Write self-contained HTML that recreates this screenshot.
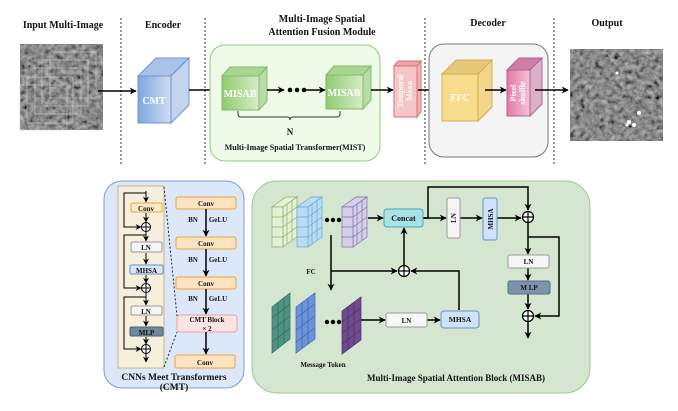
<!DOCTYPE html>
<html><head><meta charset="utf-8"><style>
html,body{margin:0;padding:0;background:#fff}
svg{display:block}
text{font-family:"Liberation Serif",serif;font-weight:bold;fill:#111}
</style></head><body>
<svg width="678" height="411" viewBox="0 0 678 411" xmlns="http://www.w3.org/2000/svg">
<defs>
<marker id="ah" viewBox="0 0 10 10" refX="9" refY="5" markerWidth="7" markerHeight="7" markerUnits="userSpaceOnUse" orient="auto"><path d="M0,0 L10,5 L0,10 L3,5 z" fill="#000"/></marker>
<marker id="ahs" viewBox="0 0 10 10" refX="9" refY="5" markerWidth="6" markerHeight="6" markerUnits="userSpaceOnUse" orient="auto"><path d="M0,0 L10,5 L0,10 L3,5 z" fill="#000"/></marker>
<filter id="noise" x="0" y="0" width="100%" height="100%">
<feTurbulence type="fractalNoise" baseFrequency="0.2" numOctaves="3" seed="4"/>
<feColorMatrix type="matrix" values="0.33 0.33 0.33 0 0  0.33 0.33 0.33 0 0  0.33 0.33 0.33 0 0  0 0 0 0 1"/>
<feComponentTransfer><feFuncR type="linear" slope="1.0" intercept="-0.25"/><feFuncG type="linear" slope="1.0" intercept="-0.25"/><feFuncB type="linear" slope="1.0" intercept="-0.25"/></feComponentTransfer>
</filter>
<linearGradient id="gb" x1="0" x2="1"><stop offset="0" stop-color="#7ea6dd"/><stop offset="1" stop-color="#cfdcf1"/></linearGradient>
<linearGradient id="gg" x1="0" x2="1"><stop offset="0" stop-color="#8fcb6e"/><stop offset="1" stop-color="#d6ecc9"/></linearGradient>
<linearGradient id="gp" x1="0" x2="1"><stop offset="0" stop-color="#e478a6"/><stop offset="1" stop-color="#f4c3d8"/></linearGradient>
</defs>

<text x="63" y="28" font-size="10" text-anchor="middle">Input Multi-Image</text>
<text x="163" y="28" font-size="10" text-anchor="middle">Encoder</text>
<text x="322" y="22" font-size="10" text-anchor="middle">Multi-Image Spatial</text>
<text x="322" y="35" font-size="10" text-anchor="middle">Attention Fusion Module</text>
<text x="488" y="26" font-size="10" text-anchor="middle">Decoder</text>
<text x="607" y="26" font-size="10" text-anchor="middle">Output</text>

<g stroke="#333" stroke-width="1" stroke-dasharray="2,2">
<line x1="121" y1="18" x2="121" y2="164"/><line x1="205" y1="18" x2="205" y2="164"/>
<line x1="425" y1="18" x2="425" y2="164"/><line x1="554" y1="18" x2="554" y2="164"/>
</g>

<g filter="url(#noise)">
<rect x="57" y="44" width="46" height="46" fill="#777"/>
<rect x="50" y="52" width="46" height="46" fill="#777"/>
<rect x="42" y="60" width="46" height="46" fill="#777"/>
<rect x="35" y="68" width="46" height="46" fill="#777"/>
<rect x="27" y="77" width="46" height="46" fill="#777"/>
<rect x="20" y="85" width="47" height="45" fill="#777"/>
</g>
<g fill="none" stroke="#ccc" stroke-width="0.6">
<rect x="50" y="52" width="46" height="46"/><rect x="42" y="60" width="46" height="46"/>
<rect x="35" y="68" width="46" height="46"/><rect x="27" y="77" width="46" height="46"/>
<rect x="20" y="85" width="47" height="45"/>
</g>
<line x1="98" y1="91" x2="136" y2="91" stroke="#000" stroke-width="1.6" marker-end="url(#ah)"/>

<polygon points="138,76 156,58 189,58 171,76" fill="#a9c2e8" stroke="#6f95cf"/>
<polygon points="171,76 189,58 189,105 171,123" fill="#c3d4ef" stroke="#6f95cf"/>
<rect x="138" y="76" width="33" height="47" fill="url(#gb)" stroke="#6f95cf"/>
<text x="154" y="104" font-size="10" style="fill:#fff" text-anchor="middle">CMT</text>
<line x1="189" y1="90" x2="221" y2="90" stroke="#000" stroke-width="1.6" marker-end="url(#ah)"/>

<rect x="210" y="45" width="170" height="116" rx="15" fill="#eefbe9" stroke="#93c97d"/>
<polygon points="222,76 230,67 267,67 259,76" fill="#a9d593" stroke="#82bb68"/>
<polygon points="259,76 267,67 267,101 259,110" fill="#b9dca7" stroke="#82bb68"/>
<rect x="222" y="76" width="37" height="34" fill="url(#gg)" stroke="#82bb68"/>
<text x="240" y="97" font-size="10" style="fill:#fff" text-anchor="middle">MISAB</text>
<polygon points="326,75 334,66 371,66 363,75" fill="#a9d593" stroke="#82bb68"/>
<polygon points="363,75 371,66 371,100 363,109" fill="#b9dca7" stroke="#82bb68"/>
<rect x="326" y="75" width="37" height="34" fill="url(#gg)" stroke="#82bb68"/>
<text x="344" y="96" font-size="10" style="fill:#fff" text-anchor="middle">MISAB</text>
<line x1="267" y1="90" x2="284" y2="90" stroke="#000" stroke-width="1.6" marker-end="url(#ah)"/>
<circle cx="290" cy="90" r="2.3"/><circle cx="297" cy="90" r="2.3"/><circle cx="304" cy="90" r="2.3"/>
<line x1="306" y1="90" x2="325" y2="90" stroke="#000" stroke-width="1.6" marker-end="url(#ah)"/>
<path d="M238,111 v3 q0,3 3,3 h46 q3,0 3,3 q0,-3 3,-3 h44 q3,0 3,-3 v-3" fill="none" stroke="#333" stroke-width="1"/>
<text x="290" y="135" font-size="9" text-anchor="middle">N</text>
<text x="295" y="150" font-size="8" text-anchor="middle">Multi-Image Spatial Transformer(MIST)</text>
<line x1="371" y1="90" x2="393" y2="90" stroke="#000" stroke-width="1.6" marker-end="url(#ah)"/>

<polygon points="394,66 398,61 421,61 417,66" fill="#eca7a7" stroke="#d27272"/>
<polygon points="417,66 421,61 421,112 417,117" fill="#f0b4b4" stroke="#d27272"/>
<rect x="394" y="66" width="23" height="51" fill="#f6c6c6" stroke="#d27272"/>
<text transform="translate(403,91) rotate(-90)" font-size="8" style="fill:#fff" text-anchor="middle">Temporal</text>
<text transform="translate(412,91) rotate(-90)" font-size="8" style="fill:#fff" text-anchor="middle">Mean</text>
<line x1="418" y1="90" x2="441" y2="90" stroke="#000" stroke-width="1.6" marker-end="url(#ah)"/>

<rect x="429" y="44" width="119" height="113" rx="15" fill="#f4f4f4" stroke="#777"/>
<polygon points="442,74 456,60 492,60 478,74" fill="#e6c87a" stroke="#cfae55"/>
<polygon points="478,74 492,60 492,107 478,121" fill="#f0d58a" stroke="#cfae55"/>
<rect x="442" y="74" width="36" height="47" fill="#f7dc8e" stroke="#cfae55"/>
<text x="460" y="101" font-size="10" style="fill:#fff" text-anchor="middle">FFC</text>
<line x1="485" y1="90" x2="506" y2="90" stroke="#000" stroke-width="1.6" marker-end="url(#ah)"/>
<polygon points="507,70 519,58 542,58 530,70" fill="#cf7ea7" stroke="#b0668c"/>
<polygon points="530,70 542,58 542,104 530,116" fill="#dcb1c8" stroke="#b0668c"/>
<rect x="507" y="70" width="23" height="46" fill="url(#gp)" stroke="#b0668c"/>
<text transform="translate(516,93) rotate(-90)" font-size="8" style="fill:#fff" text-anchor="middle">Pixel</text>
<text transform="translate(525,93) rotate(-90)" font-size="8" style="fill:#fff" text-anchor="middle">shuffle</text>
<line x1="535" y1="90" x2="568" y2="90" stroke="#000" stroke-width="1.6" marker-end="url(#ah)"/>

<rect x="570" y="49" width="93" height="92" fill="#666" filter="url(#noise)"/>
<g fill="#fff"><circle cx="639" cy="113" r="2"/><circle cx="629" cy="122" r="2"/><circle cx="634" cy="125" r="2"/><circle cx="627" cy="125" r="1.5"/><circle cx="617" cy="73" r="1.5"/></g>

<rect x="104" y="181" width="140" height="207" rx="18" fill="#dce8fa" stroke="#7b9dd2"/>
<rect x="118" y="186" width="46" height="182" fill="#f5efdc" stroke="#c7b687"/>
<line x1="164" y1="187" x2="177" y2="316" stroke="#222" stroke-dasharray="2,2"/>
<line x1="164" y1="367" x2="177" y2="332" stroke="#222" stroke-dasharray="2,2"/>
<g stroke="#000" stroke-width="1" fill="none">
<line x1="146" y1="191" x2="146" y2="202" marker-end="url(#ahs)"/>
<path d="M146,193 H124 V227 H141" marker-end="url(#ahs)"/>
<line x1="146" y1="213" x2="146" y2="222" marker-end="url(#ahs)"/>
<line x1="146" y1="232" x2="146" y2="241" marker-end="url(#ahs)"/>
<path d="M146,235 H124 V288 H141" marker-end="url(#ahs)"/>
<line x1="146" y1="253" x2="146" y2="264" marker-end="url(#ahs)"/>
<line x1="146" y1="275" x2="146" y2="283" marker-end="url(#ahs)"/>
<line x1="146" y1="293" x2="146" y2="305" marker-end="url(#ahs)"/>
<path d="M146,297 H124 V349 H141" marker-end="url(#ahs)"/>
<line x1="146" y1="316" x2="146" y2="326" marker-end="url(#ahs)"/>
<line x1="146" y1="337" x2="146" y2="344" marker-end="url(#ahs)"/>
<line x1="146" y1="354" x2="146" y2="362" marker-end="url(#ahs)"/>
</g>
<g fill="#fff" stroke="#000" stroke-width="1">
<circle cx="146" cy="227" r="4.5"/><circle cx="146" cy="288" r="4.5"/><circle cx="146" cy="349" r="4.5"/>
</g>
<g stroke="#000" stroke-width="1">
<path d="M141.5,227h9M146,222.5v9M141.5,288h9M146,283.5v9M141.5,349h9M146,344.5v9"/>
</g>
<rect x="131" y="203" width="31" height="9" rx="1.5" fill="#fde9c8" stroke="#e8a53a"/>
<text x="146" y="211" font-size="7" text-anchor="middle">Conv</text>
<rect x="131" y="242" width="31" height="10" rx="1.5" fill="#f5f5f5" stroke="#999"/>
<text x="146" y="250" font-size="7" text-anchor="middle">LN</text>
<rect x="130" y="265" width="33" height="9" rx="1.5" fill="#d6e6fb" stroke="#6f8fbf"/>
<text x="146.5" y="273" font-size="7" text-anchor="middle">MHSA</text>
<rect x="131" y="306" width="31" height="9" rx="1.5" fill="#f5f5f5" stroke="#999"/>
<text x="146" y="314" font-size="7" text-anchor="middle">LN</text>
<rect x="130" y="327" width="33" height="9" rx="1.5" fill="#6f869c" stroke="#4d6275"/>
<text x="146.5" y="335" font-size="7" text-anchor="middle">MLP</text>

<g font-size="7">
<rect x="176" y="197" width="60" height="12" rx="2" fill="#fde3c2" stroke="#e8a53a"/>
<text x="206" y="206" text-anchor="middle">Conv</text>
<rect x="176" y="237" width="60" height="12" rx="2" fill="#fde3c2" stroke="#e8a53a"/>
<text x="206" y="246" text-anchor="middle">Conv</text>
<rect x="176" y="277" width="60" height="12" rx="2" fill="#fde3c2" stroke="#e8a53a"/>
<text x="206" y="286" text-anchor="middle">Conv</text>
<rect x="177" y="315" width="60" height="17" rx="3" fill="#fde3e3" stroke="#e9a0a0"/>
<text x="207" y="322" text-anchor="middle">CMT Block</text>
<text x="207" y="331" text-anchor="middle">× 2</text>
<rect x="175" y="355" width="60" height="13" rx="2" fill="#fde3c2" stroke="#e8a53a"/>
<text x="205" y="365" text-anchor="middle">Conv</text>
<text x="193" y="222" text-anchor="middle">BN</text><text x="218" y="222" text-anchor="middle">GeLU</text>
<text x="193" y="262" text-anchor="middle">BN</text><text x="218" y="262" text-anchor="middle">GeLU</text>
<text x="193" y="301" text-anchor="middle">BN</text><text x="218" y="301" text-anchor="middle">GeLU</text>
</g>
<g stroke="#000" stroke-width="1.5">
<line x1="206" y1="209" x2="206" y2="236" marker-end="url(#ah)"/>
<line x1="206" y1="249" x2="206" y2="276" marker-end="url(#ah)"/>
<line x1="206" y1="289" x2="206" y2="314" marker-end="url(#ah)"/>
<line x1="206" y1="332" x2="206" y2="354" marker-end="url(#ah)"/>
</g>
<text x="174" y="380" font-size="9.5" text-anchor="middle">CNNs Meet Transformers</text>
<text x="174" y="390" font-size="9.5" text-anchor="middle">(CMT)</text>

<rect x="252" y="181" width="338" height="212" rx="25" fill="#d5e6d0" stroke="#9cc78f"/>

<g stroke-width="0.7">
<g stroke="#7fb25f" fill="#e3f1d7">
<polygon points="272,207 286,197 297,197 283,207"/><polygon points="283,207 297,197 297,237 283,247"/><rect x="272" y="207" width="11" height="40"/>
</g>
<g stroke="#6aa5d6" fill="#b9dcf5">
<polygon points="297,207 311,197 322,197 308,207"/><polygon points="308,207 322,197 322,237 308,247"/><rect x="297" y="207" width="11" height="40"/>
</g>
<g stroke="#7d6fb0" fill="#d5cfe9">
<polygon points="342,207 356,197 367,197 353,207"/><polygon points="353,207 367,197 367,237 353,247"/><rect x="342" y="207" width="11" height="40"/>
</g>
<g stroke="#7fb25f"><path d="M272,217h11M272,227h11M272,237h11M283,217l14,-10M283,227l14,-10M283,237l14,-10M287,204v40M292,200v40"/></g>
<g stroke="#6aa5d6"><path d="M297,217h11M297,227h11M297,237h11M308,217l14,-10M308,227l14,-10M308,237l14,-10M312,204v40M317,200v40"/></g>
<g stroke="#7d6fb0"><path d="M342,217h11M342,227h11M342,237h11M353,217l14,-10M353,227l14,-10M353,237l14,-10M357,204v40M362,200v40"/></g>
</g>
<circle cx="327" cy="220" r="2.2"/><circle cx="333" cy="220" r="2.2"/><circle cx="339" cy="220" r="2.2"/>

<g stroke-width="0.7">
<polygon points="272,307 290,293 290,339 272,353" fill="#4e9383" stroke="#2f6c5d"/>
<path d="M272,318l18,-14M272,330l18,-14M272,342l18,-14M278,302v46M284,298v46" stroke="#2f6c5d"/>
<polygon points="296,307 315,293 315,339 296,353" fill="#6c92d8" stroke="#3e64ad"/>
<path d="M296,318l19,-14M296,330l19,-14M296,342l19,-14M302,302v46M308,298v46" stroke="#3e64ad"/>
<polygon points="342,311 361,297 361,340 342,354" fill="#6d4b8e" stroke="#4a2e69"/>
<path d="M342,322l19,-14M342,333l19,-14M342,344l19,-14M348,307v43M354,302v43" stroke="#4a2e69"/>
</g>
<circle cx="327" cy="322" r="2.2"/><circle cx="333" cy="322" r="2.2"/><circle cx="339" cy="322" r="2.2"/>

<g stroke="#000" stroke-width="1.5" fill="none">
<line x1="368" y1="218" x2="383" y2="218" marker-end="url(#ah)"/>
<path d="M423,218 H428 V187 H528 V210" marker-end="url(#ah)"/>
<line x1="423" y1="218" x2="446" y2="218" marker-end="url(#ah)"/>
<line x1="460" y1="218" x2="482" y2="218" marker-end="url(#ah)"/>
<line x1="497" y1="218" x2="521" y2="218" marker-end="url(#ah)"/>
<line x1="528" y1="223" x2="528" y2="254" marker-end="url(#ah)"/>
<path d="M528,237 H559 V316 H535" marker-end="url(#ah)"/>
<line x1="528" y1="268" x2="528" y2="280" marker-end="url(#ah)"/>
<line x1="528" y1="294" x2="528" y2="309" marker-end="url(#ah)"/>
<line x1="528" y1="322" x2="528" y2="338" marker-end="url(#ah)"/>
<line x1="331" y1="235" x2="331" y2="290" marker-end="url(#ah)"/>
<line x1="331" y1="271" x2="397" y2="271" marker-end="url(#ah)"/>
<path d="M459,310 V271 H411" marker-end="url(#ah)"/>
<line x1="404" y1="265" x2="404" y2="228" marker-end="url(#ah)"/>
<line x1="361" y1="320" x2="385" y2="320" marker-end="url(#ah)"/>
<line x1="427" y1="320" x2="440" y2="320" marker-end="url(#ah)"/>
</g>
<g fill="#fff" stroke="#000" stroke-width="1.2">
<circle cx="528" cy="217" r="5.5"/><circle cx="528" cy="316" r="5.5"/><circle cx="404" cy="271" r="5.5"/>
</g>
<path d="M522.5,217h11M528,211.5v11M522.5,316h11M528,310.5v11M398.5,271h11M404,265.5v11" stroke="#000" stroke-width="1.2"/>

<rect x="384" y="209" width="39" height="18" rx="3" fill="#a9e2e6" stroke="#3fa9b0"/>
<text x="403.5" y="221" font-size="8" text-anchor="middle">Concat</text>
<rect x="447" y="198" width="13" height="40" rx="2" fill="#f6f6f6" stroke="#999"/>
<text transform="translate(456,218) rotate(-90)" font-size="7" text-anchor="middle">LN</text>
<rect x="483" y="198" width="14" height="42" rx="2" fill="#cfe2fb" stroke="#6f8fbf"/>
<text transform="translate(493,219) rotate(-90)" font-size="7" text-anchor="middle">MHSA</text>
<rect x="508" y="255" width="41" height="13" rx="2" fill="#f6f6f6" stroke="#999"/>
<text x="528.5" y="264" font-size="7" text-anchor="middle">LN</text>
<rect x="508" y="281" width="42" height="13" rx="2" fill="#7c93ad" stroke="#566c85"/>
<text x="529" y="290" font-size="7" text-anchor="middle">M LP</text>
<rect x="386" y="313" width="41" height="14" rx="2" fill="#f6f6f6" stroke="#999"/>
<text x="406.5" y="323" font-size="7" text-anchor="middle">LN</text>
<rect x="441" y="311" width="38" height="17" rx="3" fill="#cfe2fb" stroke="#6f8fbf"/>
<text x="460" y="322" font-size="7.5" text-anchor="middle">MHSA</text>
<text x="311" y="274" font-size="7" text-anchor="middle">FC</text>
<text x="323" y="367" font-size="7" text-anchor="middle">Message Token</text>
<text x="456" y="381" font-size="9" text-anchor="middle">Multi-Image Spatial Attention Block (MISAB)</text>
</svg>
</body></html>
